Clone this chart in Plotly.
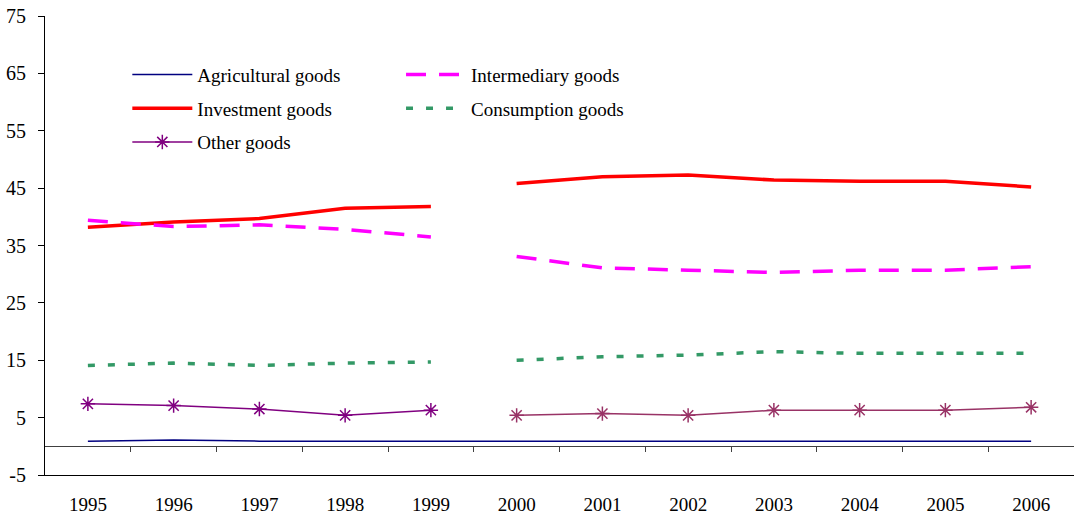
import plotly.graph_objects as go

years = ["1995", "1996", "1997", "1998", "1999", "2000", "2001", "2002", "2003", "2004", "2005", "2006"]
agricultural = [0.9, 1.1, 0.9, 0.9, 0.9, 0.9, 0.9, 0.9, 0.9, 0.9, 0.9, 0.9]
investment = [38.2, 39.1, 39.7, 41.5, 41.8, 45.8, 47.0, 47.3, 46.4, 46.2, 46.2, 45.2]
intermediary = [39.4, 38.3, 38.6, 37.8, 36.5, 33.1, 31.1, 30.7, 30.3, 30.7, 30.7, 31.3]
consumption = [14.1, 14.5, 14.1, 14.5, 14.7, 15.0, 15.6, 15.9, 16.5, 16.2, 16.2, 16.2]
other = [7.4, 7.1, 6.5, 5.4, 6.3, 5.4, 5.7, 5.4, 6.3, 6.3, 6.3, 6.8]
y_ticks = [-5, 5, 15, 25, 35, 45, 55, 65, 75]
y_tick_labels = ["-5", "5", "15", "25", "35", "45", "55", "65", "75"]

FONT = "Liberation Serif"
xi = list(range(len(years)))
split = 5  # break between 1999 and 2000
segs = [(0, split), (split, len(years))]

fig = go.Figure()

# Agricultural (continuous)
fig.add_trace(go.Scatter(x=xi, y=agricultural, mode="lines", name="Agricultural goods",
                         line=dict(color="#000080", width=1.5), legend="legend", legendgroup="a"))

def add_split(vals, name, line, group, legend, mode="lines", marker=None, colors=None):
    for k, (a, b) in enumerate(segs):
        ln = dict(line)
        mk = dict(marker) if marker else None
        if colors:
            ln["color"] = colors[k]
            if mk:
                mk["color"] = colors[k]
                mk["line"] = dict(color=colors[k], width=1.5)
        fig.add_trace(go.Scatter(x=xi[a:b], y=vals[a:b], mode=mode, name=name, line=ln,
                                 marker=mk, legendgroup=group, showlegend=(k == 0), legend=legend))

add_split(investment, "Investment goods", dict(color="#FF0000", width=3.5), "b", "legend")
add_split(other, "Other goods", dict(width=1.5), "c", "legend", mode="lines+markers",
          marker=dict(symbol="asterisk-open", size=12), colors=["#800080", "#993366"])
add_split(intermediary, "Intermediary goods", dict(color="#FF00FF", width=3.5, dash="20px,13px"), "d", "legend2")
add_split(consumption, "Consumption goods", dict(color="#339966", width=3.5, dash="7px,13px"), "e", "legend2")

# dummy trace to activate the zero-line axis
fig.add_trace(go.Scatter(x=[0], y=[None], xaxis="x2", showlegend=False, hoverinfo="skip"))

legend_common = dict(font=dict(family=FONT, size=19, color="black"), bgcolor="rgba(0,0,0,0)",
                     tracegroupgap=6, itemwidth=60, xanchor="left", yanchor="top", orientation="v")

fig.update_layout(
    width=1079, height=518,
    margin=dict(l=45, r=5, t=16, b=43),
    plot_bgcolor="white", paper_bgcolor="white",
    font=dict(family=FONT, size=19, color="black"),
    showlegend=True,
    legend=dict(x=0.08, y=0.9135, **legend_common),
    legend2=dict(x=0.346, y=0.9135, **legend_common),
    xaxis=dict(range=[-0.5, len(years) - 0.5], tickvals=xi, ticktext=years, showgrid=False,
               zeroline=False, showline=True, linecolor="black", linewidth=1, ticks="",
               ticklabelstandoff=12, automargin=False,
               tickfont=dict(family=FONT, size=19, color="black")),
    xaxis2=dict(overlaying="x", anchor="free", position=5 / 80, range=[-0.5, len(years) - 0.5],
                tickvals=[i + 0.5 for i in xi[:-1]], showticklabels=False, ticks="outside",
                ticklen=5, tickcolor="#404040", showline=True, linecolor="#404040", linewidth=1,
                showgrid=False, zeroline=False, automargin=False),
    yaxis=dict(range=[-5, 75], tickvals=y_ticks, ticktext=y_tick_labels, showgrid=False,
               zeroline=False, showline=True, linecolor="black", linewidth=1, ticks="outside",
               ticklen=6, tickcolor="black", ticklabelstandoff=8, automargin=False,
               tickfont=dict(family=FONT, size=20, color="black")),
)

fig.write_html("out.html")
